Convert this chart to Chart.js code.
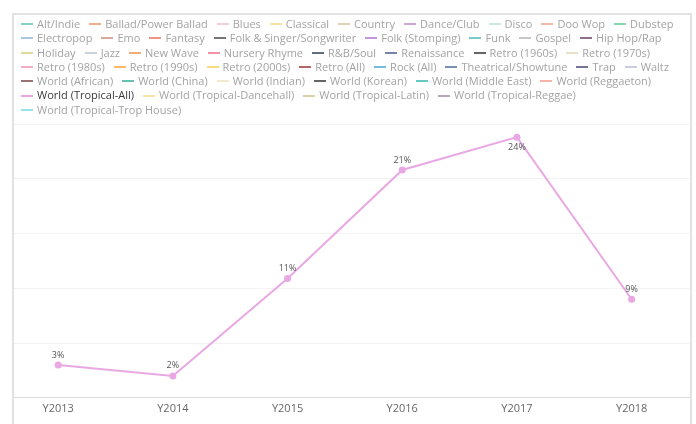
<!DOCTYPE html>
<html>
<head>
<meta charset="utf-8">
<script src="https://cdn.jsdelivr.net/npm/chart.js@4.4.0/dist/chart.umd.min.js"></script>
<style>
    html, body { margin: 0; padding: 0; background: #fff; }
    body { width: 696px; height: 424px; position: relative; overflow: hidden; font-family: "Open Sans", sans-serif; }
    #frame { position: absolute; left: 12px; top: 13px; width: 676px; height: 430px; border: 2px solid #e2e2e2; border-bottom: none; }
    #legend { position: absolute; left: 21px; top: 17px; width: 664px; font-size: 11px; line-height: 14.3px; color: #a3a3a3; }
    #legend span.item { display: inline-block; margin-right: 9px; white-space: nowrap; }
    #legend span.swatch { display: inline-block; width: 12px; height: 2px; margin-right: 4px; vertical-align: middle; position: relative; top: -1px; }
    #legend span.active { color: #3a3a3a; }
    #wrap { position: absolute; left: 0; top: 0; width: 696px; height: 424px; }
</style>
</head>
<body>
<div id="frame"></div>
<div id="wrap"><canvas id="trendChart"></canvas></div>
<div id="legend"></div>
<script>
// ============================================
// Genre share by year - only World (Tropical-All) is highlighted
// ============================================

const years = ['Y2013', 'Y2014', 'Y2015', 'Y2016', 'Y2017', 'Y2018'];

const genres = [
    'Alt/Indie', 'Ballad/Power Ballad', 'Blues', 'Classical', 'Country', 'Dance/Club', 'Disco', 'Doo Wop', 'Dubstep',
    'Electropop', 'Emo', 'Fantasy', 'Folk & Singer/Songwriter', 'Folk (Stomping)', 'Funk', 'Gospel', 'Hip Hop/Rap',
    'Holiday', 'Jazz', 'New Wave', 'Nursery Rhyme', 'R&B/Soul', 'Renaissance', 'Retro (1960s)', 'Retro (1970s)',
    'Retro (1980s)', 'Retro (1990s)', 'Retro (2000s)', 'Retro (All)', 'Rock (All)', 'Theatrical/Showtune', 'Trap', 'Waltz',
    'World (African)', 'World (China)', 'World (Indian)', 'World (Korean)', 'World (Middle East)', 'World (Reggaeton)',
    'World (Tropical-All)', 'World (Tropical-Dancehall)', 'World (Tropical-Latin)', 'World (Tropical-Reggae)',
    'World (Tropical-Trop House)'
];

const genreColors = [
    '#86cfc6', '#f5ab90', '#f6ccd6', '#f8e0a6', '#ddd5b0', '#c9a8d2', '#c4ebe3', '#f6b6a4', '#84d6ab',
    '#a9c6e2', '#d6aa9c', '#f09484', '#747474', '#c596da', '#76cbca', '#c8c8c8', '#8c6e8c',
    '#dcdc98', '#cad2e2', '#f5ab74', '#f292a6', '#5e6e7e', '#7484aa', '#666666', '#ebdfc4',
    '#f5adc4', '#f8bc66', '#f8da7e', '#b46666', '#76bce2', '#7494b2', '#747494', '#cacae2',
    '#9a7474', '#66c2b4', '#f2eacc', '#666666', '#66cac2', '#f8b4a4',
    '#e9a8e3', '#f8e2a6', '#dad2a4', '#bca4bc',
    '#96e2ea'
];

const activeGenre = 'World (Tropical-All)';
const tropicalAllShare = [3.0, 2.0, 10.9, 20.8, 23.8, 9.0];

const yTicks = [0, 5, 10, 15, 20, 25];

// Value labels drawn next to each point
const valueLabels = {
    id: 'valueLabels',
    afterDatasetsDraw(chart) {
        const ctx = chart.ctx;
        const top = chart.chartArea.top;
        chart.data.datasets.forEach((ds, di) => {
            if (!ds.data.length) return;
            const meta = chart.getDatasetMeta(di);
            meta.data.forEach((pt, i) => {
                let y = pt.y - 10;
                if (y < top + 12) y = pt.y + 10;
                ctx.save();
                ctx.font = '9px "Open Sans"';
                ctx.fillStyle = '#555';
                ctx.textAlign = 'center';
                ctx.textBaseline = 'middle';
                ctx.fillText(Math.round(ds.data[i].y) + '%', pt.x, y);
                ctx.restore();
            });
        });
    }
};

const datasets = genres.map((g, i) => ({
    label: g,
    data: g === activeGenre ? tropicalAllShare.map((v, k) => ({ x: k, y: v })) : [],
    borderColor: genreColors[i],
    backgroundColor: genreColors[i],
    borderWidth: 2,
    pointRadius: 3.5,
    pointBorderWidth: 0,
    tension: 0
}));

const chart = new Chart(document.getElementById('trendChart'), {
    type: 'line',
    data: { datasets: datasets },
    options: {
        responsive: true,
        maintainAspectRatio: false,
        animation: false,
        layout: { padding: { left: 14, right: 7, top: 124, bottom: 5 } },
        plugins: {
            legend: { display: false },
            tooltip: { enabled: false }
        },
        scales: {
            x: {
                type: 'linear',
                min: -0.385,
                max: 5.5,
                afterBuildTicks: (scale) => { scale.ticks = years.map((y, i) => ({ value: i })); },
                ticks: {
                    callback: (v) => years[v],
                    color: '#666',
                    font: { family: '"Open Sans"', size: 11 },
                    padding: 4,
                    maxRotation: 0
                },
                grid: { display: false, drawTicks: false },
                border: { display: true, color: '#dcdcdc', width: 1 }
            },
            y: {
                min: 0,
                max: 25,
                afterBuildTicks: (scale) => { scale.ticks = yTicks.map(v => ({ value: v })); },
                ticks: { display: false },
                grid: { color: '#f3f3f3', drawTicks: false },
                border: { display: false }
            }
        }
    },
    plugins: [valueLabels]
});

// HTML legend built from the chart's datasets
const legendEl = document.getElementById('legend');
chart.data.datasets.forEach((ds) => {
    const item = document.createElement('span');
    item.className = 'item' + (ds.label === activeGenre ? ' active' : '');
    const sw = document.createElement('span');
    sw.className = 'swatch';
    sw.style.background = ds.borderColor;
    item.appendChild(sw);
    item.appendChild(document.createTextNode(ds.label));
    legendEl.appendChild(item);
});
</script>
</body>
</html>
